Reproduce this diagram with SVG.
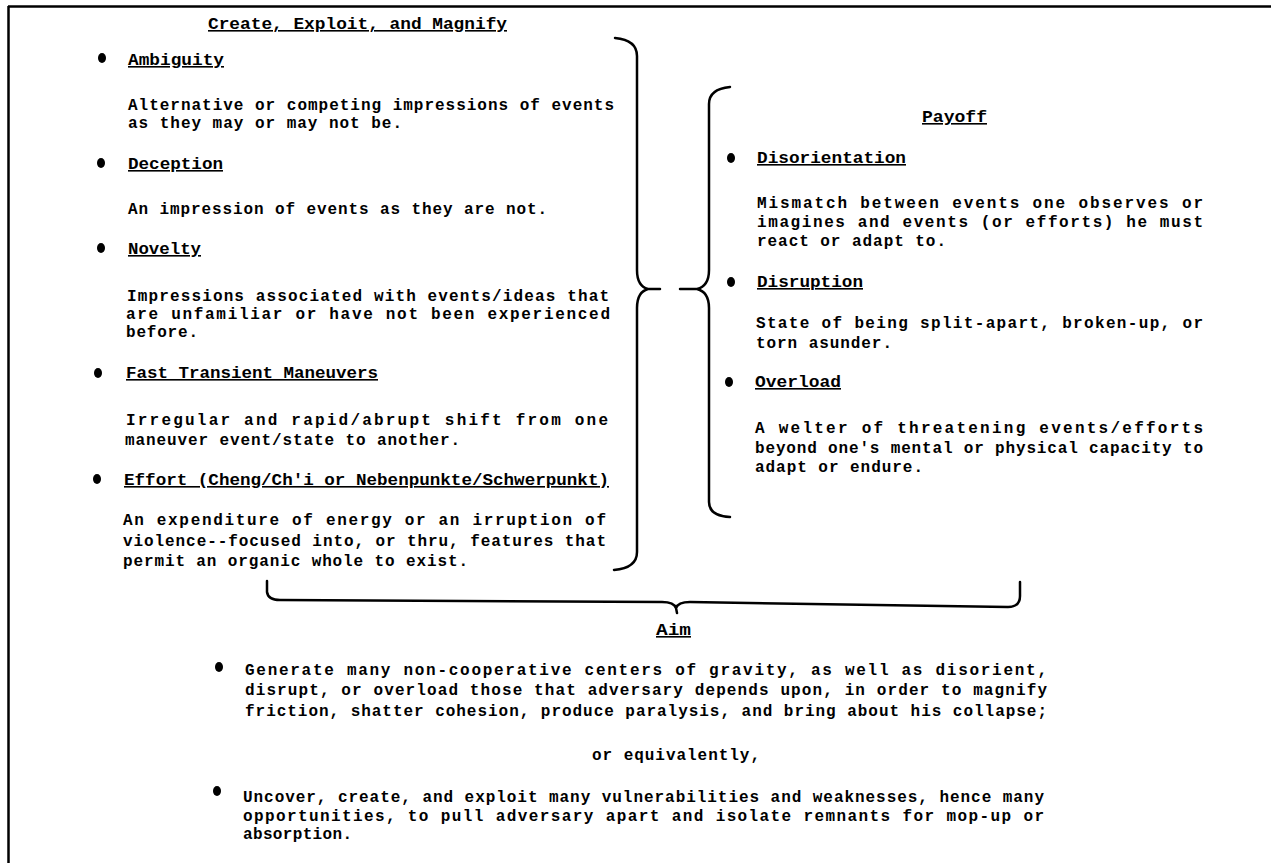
<svg xmlns="http://www.w3.org/2000/svg" width="1271" height="863" viewBox="0 0 1271 863">
<style>
  text { font-family: "Liberation Mono", "DejaVu Sans Mono", monospace; font-weight: bold; font-size: 16px; fill: #000; }
  .h { text-decoration: underline; }
  .b { fill: #000; }
  .br { fill: none; stroke: #000; stroke-width: 2.5; stroke-linecap: round; stroke-linejoin: round; }
  .frame { stroke: #000; stroke-width: 2.5; }
</style>
<rect width="1271" height="863" fill="#fff"/>
<g id="frame">
  <line class="frame" x1="8" y1="6.5" x2="1271" y2="6.5"/>
  <line class="frame" x1="8.5" y1="6" x2="8.5" y2="863"/>
</g>
<g id="connectors">
  <path class="br" d="M615,38 Q637,40 637,56 L637,270 Q637,286 648,289 L660,289 M648,289 Q637,292 637,308 L637,552 Q637,568 614,570"/>
  <path class="br" d="M730,87 Q709,89 709,104 L709,270 Q709,286 697,289 L680,289 M697,289 Q709,292 709,308 L709,502 Q709,516 730,517"/>
  <path class="br" d="M267,581 L267,592 Q268,600 280,600 L662,602 Q674,602 676,608 L677,613 M676,608 Q678,602 690,602 L1008,607 Q1020,607 1020,596 L1020,582"/>
</g>
<g id="title">
  <text class="h" x="208" y="29" textLength="299" lengthAdjust="spacingAndGlyphs">Create, Exploit, and Magnify</text>
</g>
<g id="ambiguity">
  <ellipse class="b" cx="102" cy="58" rx="4" ry="5"/>
  <text class="h" x="128" y="65" textLength="96" lengthAdjust="spacingAndGlyphs">Ambiguity</text>
  <text x="128" y="110" textLength="486" lengthAdjust="spacing">Alternative or competing impressions of events</text>
  <text x="128" y="128" textLength="274" lengthAdjust="spacing">as they may or may not be.</text>
</g>
<g id="deception">
  <ellipse class="b" cx="101" cy="163" rx="4" ry="5"/>
  <text class="h" x="128" y="169" textLength="95" lengthAdjust="spacingAndGlyphs">Deception</text>
  <text x="128" y="214" textLength="419" lengthAdjust="spacing">An impression of events as they are not.</text>
</g>
<g id="novelty">
  <ellipse class="b" cx="101" cy="248" rx="4" ry="5"/>
  <text class="h" x="128" y="254" textLength="73" lengthAdjust="spacingAndGlyphs">Novelty</text>
  <text x="127" y="301" textLength="482" lengthAdjust="spacing">Impressions associated with events/ideas that</text>
  <text x="126" y="319" textLength="484" lengthAdjust="spacing">are unfamiliar or have not been experienced</text>
  <text x="126" y="337" textLength="72" lengthAdjust="spacing">before.</text>
</g>
<g id="fast-transient-maneuvers">
  <ellipse class="b" cx="98" cy="373" rx="4" ry="5"/>
  <text class="h" x="126" y="378" textLength="252" lengthAdjust="spacingAndGlyphs">Fast Transient Maneuvers</text>
  <text x="126" y="425" textLength="482" lengthAdjust="spacing">Irregular and rapid/abrupt shift from one</text>
  <text x="125" y="445" textLength="335" lengthAdjust="spacing">maneuver event/state to another.</text>
</g>
<g id="effort">
  <ellipse class="b" cx="97" cy="479" rx="4" ry="5"/>
  <text class="h" x="124" y="485" textLength="485" lengthAdjust="spacingAndGlyphs">Effort (Cheng/Ch'i or Nebenpunkte/Schwerpunkt)</text>
  <text x="123" y="525" textLength="483" lengthAdjust="spacing">An expenditure of energy or an irruption of</text>
  <text x="123" y="546" textLength="483" lengthAdjust="spacing">violence--focused into, or thru, features that</text>
  <text x="123" y="566" textLength="345" lengthAdjust="spacing">permit an organic whole to exist.</text>
</g>
<g id="payoff">
  <text class="h" x="922" y="122" textLength="65" lengthAdjust="spacingAndGlyphs">Payoff</text>
</g>
<g id="disorientation">
  <ellipse class="b" cx="731" cy="158" rx="4" ry="5"/>
  <text class="h" x="757" y="163" textLength="149" lengthAdjust="spacingAndGlyphs">Disorientation</text>
  <text x="757" y="208" textLength="446" lengthAdjust="spacing">Mismatch between events one observes or</text>
  <text x="757" y="227" textLength="446" lengthAdjust="spacing">imagines and events (or efforts) he must</text>
  <text x="757" y="246" textLength="189" lengthAdjust="spacing">react or adapt to.</text>
</g>
<g id="disruption">
  <ellipse class="b" cx="731" cy="282" rx="4" ry="5"/>
  <text class="h" x="757" y="287" textLength="106" lengthAdjust="spacingAndGlyphs">Disruption</text>
  <text x="756" y="328" textLength="447" lengthAdjust="spacing">State of being split-apart, broken-up, or</text>
  <text x="756" y="348" textLength="136" lengthAdjust="spacing">torn asunder.</text>
</g>
<g id="overload">
  <ellipse class="b" cx="729" cy="382" rx="4" ry="5"/>
  <text class="h" x="755" y="387" textLength="86" lengthAdjust="spacingAndGlyphs">Overload</text>
  <text x="755" y="433" textLength="448" lengthAdjust="spacing">A welter of threatening events/efforts</text>
  <text x="755" y="453" textLength="448" lengthAdjust="spacing">beyond one's mental or physical capacity to</text>
  <text x="755" y="472" textLength="168" lengthAdjust="spacing">adapt or endure.</text>
</g>
<g id="aim">
  <text class="h" x="656" y="635" textLength="35" lengthAdjust="spacingAndGlyphs">Aim</text>
  <ellipse class="b" cx="219" cy="667" rx="4" ry="5"/>
  <text x="245" y="675" textLength="802" lengthAdjust="spacing">Generate many non-cooperative centers of gravity, as well as disorient,</text>
  <text x="245" y="695" textLength="802" lengthAdjust="spacing">disrupt, or overload those that adversary depends upon, in order to magnify</text>
  <text x="245" y="716" textLength="802" lengthAdjust="spacing">friction, shatter cohesion, produce paralysis, and bring about his collapse;</text>
  <text x="592" y="760" textLength="168" lengthAdjust="spacing">or equivalently,</text>
  <ellipse class="b" cx="217" cy="791" rx="4" ry="5"/>
  <text x="243" y="802" textLength="801" lengthAdjust="spacing">Uncover, create, and exploit many vulnerabilities and weaknesses, hence many</text>
  <text x="243" y="821" textLength="801" lengthAdjust="spacing">opportunities, to pull adversary apart and isolate remnants for mop-up or</text>
  <text x="243" y="839" textLength="109" lengthAdjust="spacing">absorption.</text>
</g>
</svg>
